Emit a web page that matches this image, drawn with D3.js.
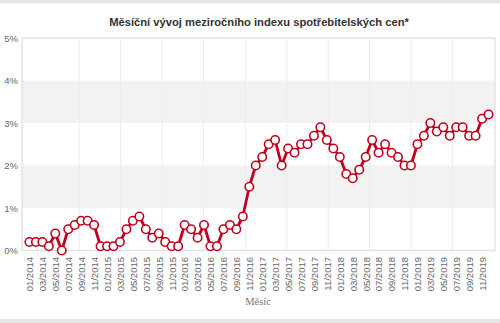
<!DOCTYPE html>
<html><head><meta charset="utf-8">
<script src="https://cdn.jsdelivr.net/npm/d3@7"></script>
<style>
html,body{margin:0;padding:0;background:#fff;}
svg{display:block;}
</style></head>
<body>
<svg id="c" width="500" height="323"></svg>
<script>
const title = "Měsíční vývoj meziročního indexu spotřebitelských cen*";
const xTitle = "Měsíc";
const months = [];
const years = [2014,2015,2016,2017,2018,2019];
years.forEach(y => { for (let m = 1; m <= 12; m++) months.push((m < 10 ? "0" + m : "" + m) + "/" + y); });
const values = [
  0.2,0.2,0.2,0.1,0.4,0.0,0.5,0.6,0.7,0.7,0.6,0.1,
  0.1,0.1,0.2,0.5,0.7,0.8,0.5,0.3,0.4,0.2,0.1,0.1,
  0.6,0.5,0.3,0.6,0.1,0.1,0.5,0.6,0.5,0.8,1.5,2.0,
  2.2,2.5,2.6,2.0,2.4,2.3,2.5,2.5,2.7,2.9,2.6,2.4,
  2.2,1.8,1.7,1.9,2.2,2.6,2.3,2.5,2.3,2.2,2.0,2.0,
  2.5,2.7,3.0,2.8,2.9,2.7,2.9,2.9,2.7,2.7,3.1,3.2
];
const yTicks = [0,1,2,3,4,5];
const grayBands = [[1,2],[3,4]];
const xGridIdx = [7.7,14.1,20.5,26.9,33.4,39.8,46.2,52.6,59.0,65.4];

const svg = d3.select("#c");
const L = 22, R = 495, T = 38, B = 250.5;

svg.append("rect").attr("x",0).attr("y",0).attr("width",500).attr("height",3.5).attr("fill","#e6e6e6");
svg.append("rect").attr("x",0).attr("y",319).attr("width",500).attr("height",4).attr("fill","#e6e6e6");

const x = d3.scaleLinear().domain([-1.15, 72]).range([L, R]);
const y = d3.scaleLinear().domain([0, 5]).range([B, T]);

svg.append("g").selectAll("rect").data(grayBands).join("rect")
  .attr("x", L).attr("width", R - L)
  .attr("y", d => y(d[1])).attr("height", d => y(d[0]) - y(d[1]))
  .attr("fill", "#f2f2f2");

svg.append("g").selectAll("line").data(xGridIdx).join("line")
  .attr("x1", d => x(d)).attr("x2", d => x(d))
  .attr("y1", T).attr("y2", B)
  .attr("stroke", "#ececec").attr("stroke-width", 1);

svg.append("rect").attr("x", L).attr("y", T).attr("width", R - L).attr("height", B - T)
  .attr("fill", "none").attr("stroke", "#e3e3e3").attr("stroke-width", 1.5);

const yAxis = d3.axisLeft(y).tickValues(yTicks).tickFormat(d => d + "%").tickSize(0).tickPadding(4);
const ya = svg.append("g").attr("transform", `translate(${L},0)`).call(yAxis);
ya.select(".domain").remove();
ya.selectAll("text").attr("font-family", "Liberation Sans, Arial, sans-serif").attr("font-size", 9.5).attr("fill", "#666");

const xLabelIdx = months.map((m, i) => i).filter(i => i % 2 === 0);
const xAxis = d3.axisBottom(x).tickValues(xLabelIdx).tickFormat(i => months[i]).tickSize(0).tickPadding(0);
const xa = svg.append("g").attr("transform", `translate(0,${B})`).call(xAxis);
xa.select(".domain").remove();
xa.selectAll(".tick text")
  .attr("font-family", "Liberation Sans, Arial, sans-serif").attr("font-size", 9.5).attr("fill", "#666")
  .attr("transform", "rotate(-90)")
  .attr("text-anchor", "end").attr("y", 0).attr("x", -6.5).attr("dy", "0.35em");

const line = d3.line().x((d, i) => x(i)).y(d => y(d));
svg.append("path").datum(values).attr("d", line)
  .attr("fill", "none").attr("stroke", "#c0001d").attr("stroke-width", 2.8).attr("stroke-linejoin", "round");

svg.append("g").selectAll("circle").data(values).join("circle")
  .attr("cx", (d, i) => x(i)).attr("cy", d => y(d)).attr("r", 4.2)
  .attr("fill", "#fff").attr("stroke", "#c0001d").attr("stroke-width", 1.6);

svg.append("text").attr("x", 259).attr("y", 26).attr("text-anchor", "middle")
  .attr("font-family", "Liberation Sans, Arial, sans-serif").attr("font-weight", "bold")
  .attr("font-size", 11.2).attr("fill", "#333").text(title);

svg.append("text").attr("x", 258).attr("y", 305).attr("text-anchor", "middle")
  .attr("font-family", "Liberation Serif, Times New Roman, serif")
  .attr("font-size", 10.5).attr("fill", "#777").text(xTitle);
</script>
</body></html>
